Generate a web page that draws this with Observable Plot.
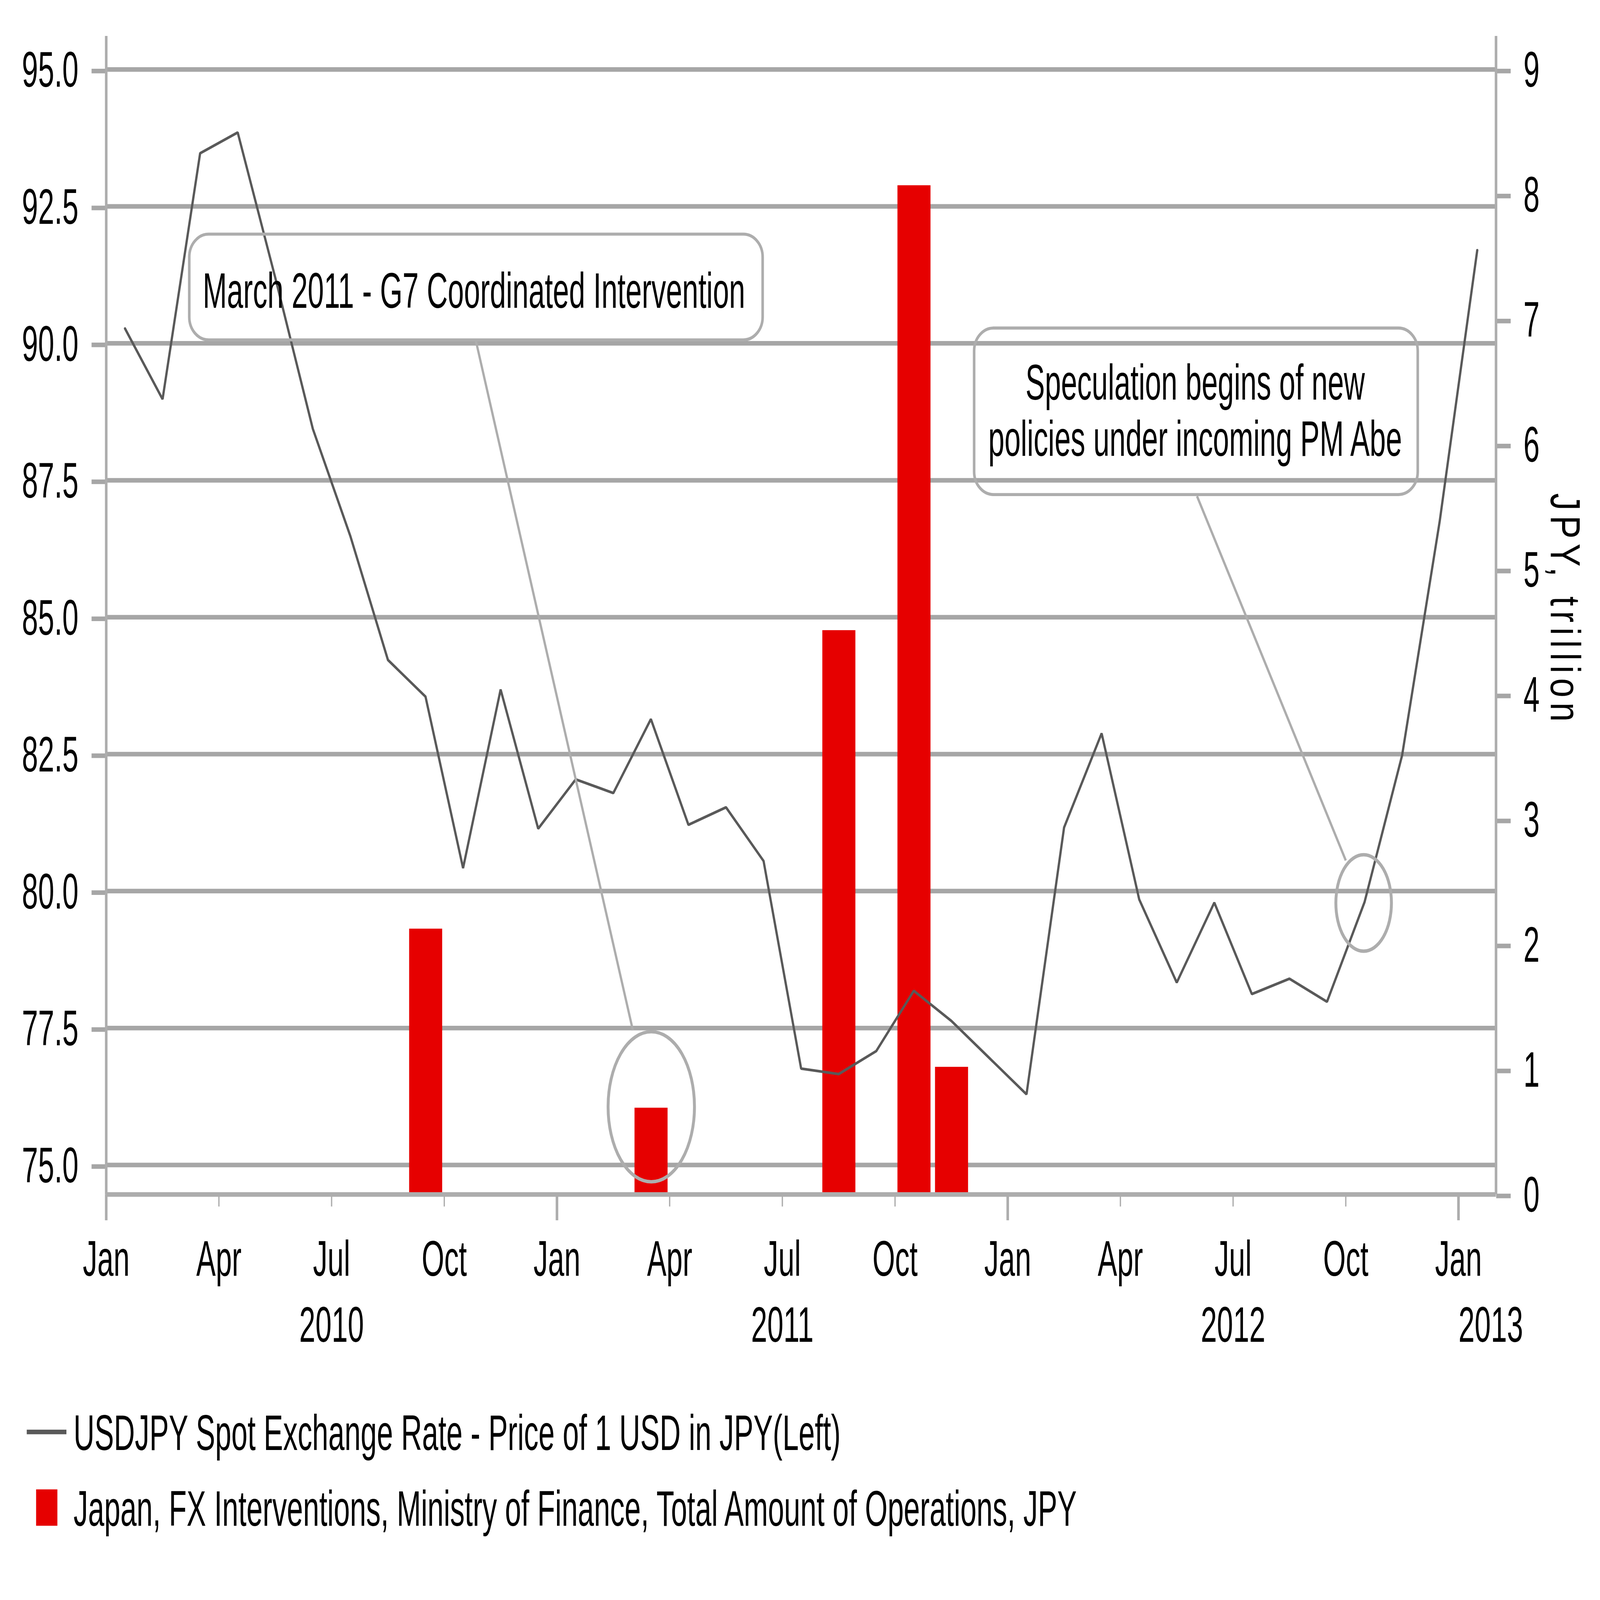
<!DOCTYPE html>
<html>
<head>
<meta charset="utf-8">
<script src="https://cdn.jsdelivr.net/npm/d3@7"></script>
<script src="https://cdn.jsdelivr.net/npm/@observablehq/plot@0.6"></script>
<style>
  html, body { margin: 0; padding: 0; background: #fff; overflow: hidden; }
  body { font-family: "Liberation Sans", Arial, sans-serif; }
  #page { position: absolute; left: 0; top: 0; width: 4963px; height: 4180px; transform-origin: 0 0; background: #fff; }
  #legend { position: relative; width: 4963px; height: 620px; font-size: 110px; color: #000; }
  #legend .swatch { position: absolute; }
  #legend .label { position: absolute; line-height: 110px; white-space: nowrap; transform-origin: 0 93px; transform: scale(0.82, 1.18); }
</style>
</head>
<body>
<div id="page">
  <div id="chart"></div>
  <div id="legend"></div>
</div>
<script>
// ---------------- data ----------------
const startYear = 2010;
// USDJPY month-end spot, Jan 2010 .. Jan 2013
const usdjpy = [
  90.27, 88.98, 93.47, 93.85, 91.20, 88.44, 86.48, 84.22, 83.55, 80.42, 83.68, 81.14,
  82.04, 81.79, 83.14, 81.21, 81.53, 80.55, 76.76, 76.66, 77.08, 78.18, 77.63, 76.96,
  76.29, 81.16, 82.88, 79.85, 78.33, 79.79, 78.12, 78.40, 77.98, 79.80, 82.48, 86.75,
  91.70
];
// MoF FX interventions, JPY trillion
const interventionMonths = ["2010-09", "2011-03", "2011-08", "2011-10", "2011-11"];
const interventionAmounts = [2.1249, 0.6925, 4.5129, 8.0722, 1.0195];

const leftTicks = [75, 77.5, 80, 82.5, 85, 87.5, 90, 92.5, 95];
const rightTicks = [0, 1, 2, 3, 4, 5, 6, 7, 8, 9];
const quarterLabels = ["Jan", "Apr", "Jul", "Oct"];
const yearLabels = ["2010", "2011", "2012", "2013"];
const seriesNames = [
  "USDJPY Spot Exchange Rate - Price of 1 USD in JPY(Left)",
  "Japan, FX Interventions, Ministry of Finance, Total Amount of Operations, JPY"
];
const rightAxisTitle = "JPY, trillion";
const noteTexts = [
  "March 2011 - G7 Coordinated Intervention",
  "Speculation begins of new\npolicies under incoming PM Abe"
];

// ---------------- layout / style ----------------
const PAGE_W = 4963, PAGE_H = 4180;
const W = 4963, H = 3560;
const FONT = '"Liberation Sans", Arial, sans-serif';
const GRID = "#A6A6A6", AXIS = "#ADADAD", LINE = "#595959", RED = "#E60000";
const TEXT_SX = 0.82, TEXT_SY = 1.18;   // narrow, tall lettering as in the reference

const Y_BOTTOM = 74.462, Y_TOP = 95.608;          // left axis domain (frame)
const RIGHT_MAX = 9, LEFT_AT_RIGHT_MAX = 95;       // right 9 aligns with left 95; right 0 at frame bottom
const toLeft = v => Y_BOTTOM + v * (LEFT_AT_RIGHT_MAX - Y_BOTTOM) / RIGHT_MAX;
const fromLeft = y => (y - Y_BOTTOM) * RIGHT_MAX / (LEFT_AT_RIGHT_MAX - Y_BOTTOM);

const monthIndex = s => { const [y, m] = s.split("-").map(Number); return (y - startYear) * 12 + (m - 1); };
const nMonths = usdjpy.length;
const lineData = usdjpy.map((value, i) => ({i, value}));
const barData = interventionMonths.map((m, k) => ({i: monthIndex(m), amount: interventionAmounts[k]}));

const quarterTicks = d3.range(0, nMonths, 3);
const majorTicks = quarterTicks.filter(d => d % 12 === 0);
const minorTicks = quarterTicks.filter(d => d % 12 !== 0);

// annotation layout in data units (month index, left-axis JPY)
const notes = [
  {text: noteTexts[0], x1: 2.215, x2: 17.48, y1: 90.06, y2: 91.99, tx: 9.79, ty: 90.98},
  {text: noteTexts[1], x1: 23.11, x2: 34.92, y1: 87.236, y2: 90.276, tx: 28.99, ty: 88.79}
];
const connectors = [
  {x1: 9.84, y1: 90.05, x2: 14.02, y2: 77.46},
  {x1: 29.04, y1: 87.21, x2: 33.0, y2: 80.56}
];
const ellipses = [
  {cx: 14.515, cy: 76.06, rx: 1.15, ry: 1.37},
  {cx: 33.48, cy: 79.78, rx: 0.74, ry: 0.88}
];

function ellipseMark(index, scales) {
  const g = d3.create("svg:g");
  for (const e of ellipses) {
    const cx = scales.x(e.cx), cy = scales.y(e.cy);
    g.append("ellipse")
      .attr("cx", cx).attr("cy", cy)
      .attr("rx", Math.abs(scales.x(e.cx + e.rx) - cx))
      .attr("ry", Math.abs(scales.y(e.cy + e.ry) - cy))
      .attr("fill", "none").attr("stroke", AXIS).attr("stroke-width", 9);
  }
  return g.node();
}

const chart = Plot.plot({
  width: W,
  height: H,
  marginTop: 94,
  marginBottom: H - 3120,
  marginLeft: 329,
  marginRight: W - 4640,
  style: {fontFamily: FONT, fontSize: "110px", color: "#000", background: "#fff", overflow: "visible"},
  x: {type: "linear", domain: [0, nMonths], axis: null},
  y: {type: "linear", domain: [Y_BOTTOM, Y_TOP], axis: null},
  marks: [
    Plot.gridY(leftTicks, {stroke: GRID, strokeOpacity: 1, strokeWidth: 12}),
    Plot.axisY(leftTicks, {anchor: "left", tickSize: 45, tickPadding: 41, tickFormat: d3.format(".1f"),
      stroke: GRID, strokeWidth: 12, dy: 4}),
    Plot.axisY(rightTicks.map(toLeft), {anchor: "right", tickSize: 45, tickPadding: 40,
      tickFormat: d => String(Math.round(fromLeft(d))), stroke: GRID, strokeWidth: 12, dy: 4}),
    Plot.axisX(majorTicks, {anchor: "bottom", tickSize: 68, tickFormat: () => "", stroke: AXIS, strokeWidth: 8}),
    Plot.axisX(minorTicks, {anchor: "bottom", tickSize: 32, tickFormat: () => "", stroke: AXIS, strokeWidth: 4}),
    Plot.axisX(quarterTicks, {anchor: "bottom", tickSize: 0, tickPadding: 120,
      tickFormat: d => quarterLabels[(d / 3) % 4]}),
    Plot.text(yearLabels.slice(0, 3), {x: (d, k) => k * 12 + 6, frameAnchor: "bottom", lineAnchor: "top", dy: 293, text: d => d}),
    Plot.text(yearLabels.slice(3), {x: () => 36, frameAnchor: "bottom", lineAnchor: "top", textAnchor: "start", dy: 293, text: d => d}),
    Plot.rectY(barData, {x1: d => d.i, x2: d => d.i + 1, y1: () => toLeft(0), y2: d => toLeft(d.amount),
      fill: RED, insetLeft: 8, insetRight: 6}),
    Plot.ruleX([0, nMonths], {stroke: AXIS, strokeWidth: 8}),
    Plot.ruleY([Y_BOTTOM], {stroke: AXIS, strokeWidth: 12}),
    Plot.line(lineData, {x: d => d.i + 0.5, y: "value", stroke: LINE, strokeWidth: 7, strokeLinejoin: "miter"}),
    Plot.rect(notes, {x1: "x1", x2: "x2", y1: "y1", y2: "y2", rx: 60, fill: "none", stroke: AXIS, strokeWidth: 8}),
    Plot.text(notes, {x: "tx", y: "ty", text: "text", lineHeight: 1.133, fill: "#000"}),
    Plot.link(connectors, {x1: "x1", y1: "y1", x2: "x2", y2: "y2", stroke: AXIS, strokeWidth: 7}),
    ellipseMark,
    Plot.text([rightAxisTitle], {frameAnchor: "right", textAnchor: "middle", lineAnchor: "middle",
      dx: 211, dy: -14, rotate: 90, text: d => d})
  ]
});

// narrow + tall lettering, scaled about each text's own anchor
chart.querySelectorAll("text").forEach(t => {
  const x = Number(t.getAttribute("x")) || 0;
  const y = Number(t.getAttribute("y")) || 0;
  const tr = t.getAttribute("transform") || "";
  t.setAttribute("transform", `${tr} translate(${x},${y}) scale(${TEXT_SX},${TEXT_SY}) translate(${-x},${-y})`);
  if (t.textContent === rightAxisTitle) t.style.letterSpacing = "16px";
});

document.getElementById("chart").appendChild(chart);

// ---------------- legend (HTML, below the SVG) ----------------
const legend = document.getElementById("legend");
const legendItems = [
  {name: seriesNames[0], swatch: {left: 83, top: 175, width: 123, height: 12, color: LINE}, labelTop: 135},
  {name: seriesNames[1], swatch: {left: 112, top: 331, width: 66, height: 95, color: RED}, labelTop: 333}
];
for (const item of legendItems) {
  const sw = document.createElement("div");
  sw.className = "swatch";
  Object.assign(sw.style, {left: item.swatch.left + "px", top: item.swatch.top + "px",
    width: item.swatch.width + "px", height: item.swatch.height + "px", background: item.swatch.color});
  legend.appendChild(sw);
  const lab = document.createElement("div");
  lab.className = "label";
  lab.textContent = item.name;
  Object.assign(lab.style, {left: "228px", top: item.labelTop + "px"});
  legend.appendChild(lab);
}

// fit the 4963x4180 page into whatever window the page is actually given
function fitPage() {
  const sx = window.innerWidth / PAGE_W, sy = window.innerHeight / PAGE_H;
  document.getElementById("page").style.transform = `scale(${sx},${sy})`;
}
fitPage();
window.addEventListener("resize", fitPage);
</script>
</body>
</html>
